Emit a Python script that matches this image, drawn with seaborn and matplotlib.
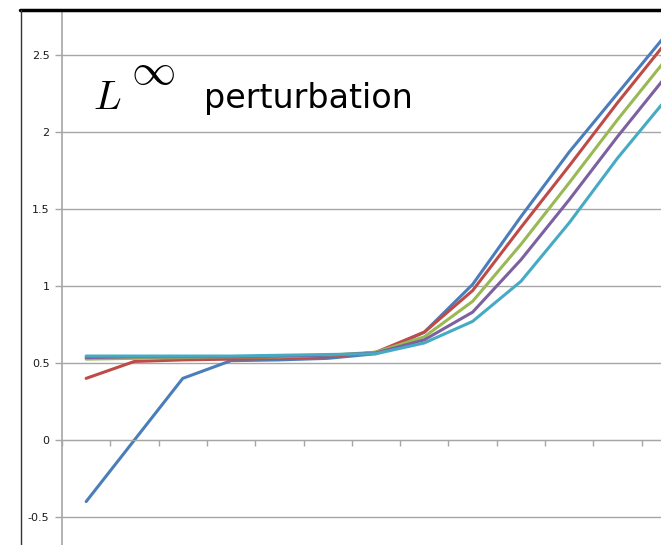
import numpy as np
import pandas as pd
import matplotlib
matplotlib.use("Agg")
import matplotlib.pyplot as plt
from matplotlib.lines import Line2D
import seaborn as sns

# category index along the x axis (last one sits just past the right edge)
steps = list(range(13))

blue = [-0.40, 0.00, 0.40, 0.515, 0.52, 0.53, 0.56, 0.70, 1.01, 1.45, 1.87, 2.25, 2.63]
red = [0.40, 0.51, 0.52, 0.525, 0.53, 0.54, 0.57, 0.70, 0.97, 1.38, 1.78, 2.19, 2.58]
green = [0.525, 0.53, 0.535, 0.54, 0.54, 0.55, 0.57, 0.67, 0.90, 1.27, 1.67, 2.08, 2.47]
purple = [0.535, 0.54, 0.54, 0.54, 0.545, 0.55, 0.565, 0.65, 0.83, 1.17, 1.56, 1.97, 2.36]
cyan = [0.545, 0.545, 0.545, 0.545, 0.55, 0.555, 0.56, 0.63, 0.77, 1.03, 1.41, 1.83, 2.21]

series_names = ["s1", "s2", "s3", "s4", "s5"]
colors = ["#4A7EBB", "#BE4B48", "#98B954", "#7D60A0", "#46AAC5"]

ytick_vals = [-0.5, 0, 0.5, 1, 1.5, 2, 2.5]
ytick_labels = ["-0.5", "0", "0.5", "1", "1.5", "2", "2.5"]

frames = []
for name, vals in zip(series_names, [blue, red, green, purple, cyan]):
    frames.append(pd.DataFrame({"step": steps, "value": vals, "series": name}))
df = pd.concat(frames, ignore_index=True)

sns.set_style("white")
plt.rcParams["mathtext.fontset"] = "cm"

fig = plt.figure(figsize=(6.61, 5.45), dpi=100)
W, H = 661, 545
ax = fig.add_axes([62 / W, 0, 1 - 62 / W, 1 - 12 / H])

sns.lineplot(data=df, x="step", y="value", hue="series",
             hue_order=series_names, palette=colors,
             linewidth=2.2, legend=False, ax=ax)

ax.set_xlim(-0.5, 11.9)
ax.set_ylim(-0.682, 2.779)

grid_col = "#a6a6a6"
ax.set_yticks(ytick_vals)
ax.set_yticklabels(ytick_labels, fontsize=8, color="#1a1a1a")
ax.yaxis.grid(True, color=grid_col, linewidth=1.0)
ax.set_axisbelow(True)
ax.tick_params(axis="y", left=True, direction="out", length=5, width=1.0,
               color=grid_col, pad=4)

# x axis crosses at y=0 with tick marks between categories
ax.spines["bottom"].set_position(("data", 0))
ax.spines["bottom"].set_color(grid_col)
ax.set_xticks(np.arange(-0.5, 12, 1.0))
ax.set_xticklabels([])
ax.tick_params(axis="x", bottom=True, direction="out", length=4, width=1.0,
               color=grid_col)
ax.spines["left"].set_color(grid_col)
ax.spines["left"].set_linewidth(1.2)
ax.spines["top"].set_visible(False)
ax.spines["right"].set_visible(False)
ax.set_xlabel("")
ax.set_ylabel("")

# title text: italic L with a raised infinity sign, then the word
fig.text(93 / W, 1 - 109 / H, r"$L$", fontsize=29.5,
         va="baseline", ha="left", color="black")
fig.text(131 / W, 1 - 84 / H, r"$\infty$", fontsize=32,
         va="baseline", ha="left", color="black")
fig.text(204 / W, 1 - 108 / H, "perturbation", fontsize=24,
         va="baseline", ha="left", color="black")

# frame of the surrounding window
fig.add_artist(Line2D([20 / W, 1], [1 - 10 / H, 1 - 10 / H], color="black",
                      linewidth=2.5, transform=fig.transFigure))
fig.add_artist(Line2D([20.5 / W, 20.5 / W], [0, 1 - 10 / H], color="#333333",
                      linewidth=1.0, transform=fig.transFigure))

fig.savefig("out.png", dpi=100)
